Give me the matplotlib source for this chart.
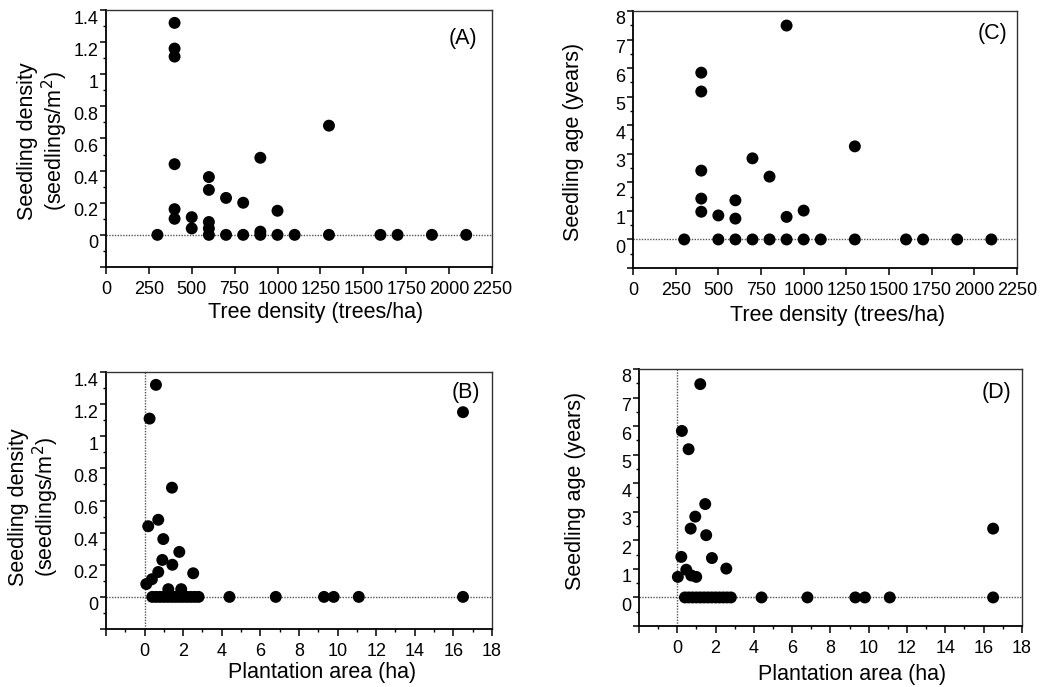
import numpy as np
import matplotlib
matplotlib.use('Agg')
import matplotlib.pyplot as plt
import matplotlib.transforms as mtransforms

plt.rcParams['font.family'] = ['Liberation Sans', 'DejaVu Sans']

# Panel A / C: tree density (trees/ha)
trees_A = [300, 400, 400, 400, 400, 400, 400, 500, 500, 600, 600, 600, 600, 600,
           700, 700, 800, 800, 900, 900, 900, 1000, 1000, 1100, 1300, 1300,
           1600, 1700, 1900, 2100]
density_A = [0, 1.32, 1.16, 1.11, 0.44, 0.16, 0.10, 0.11, 0.04, 0.36, 0.28, 0.08, 0.04, 0,
             0.23, 0, 0.20, 0, 0.48, 0.02, 0, 0.15, 0, 0, 0.68, 0,
             0, 0, 0, 0]

trees_C = [300, 400, 400, 400, 400, 400, 500, 500, 600, 600, 600, 700, 700, 800, 800,
           900, 900, 900, 1000, 1000, 1100, 1300, 1300, 1600, 1700, 1900, 2100]
age_C = [0, 5.84, 5.18, 2.41, 1.43, 0.97, 0.84, 0, 1.37, 0.73, 0, 2.84, 0, 2.2, 0,
         7.49, 0.79, 0, 1.01, 0, 0, 3.26, 0, 0, 0, 0, 0]

# Panel B / D: plantation area (ha)
area_B = [0.59, 0.26, 16.5, 1.42, 0.71, 0.19, 0.97, 1.8, 0.92, 1.44, 2.52, 0.71,
          0.38, 0.09, 1.23, 1.9,
          0.4, 0.6, 0.8, 1.0, 1.2, 1.4, 1.6, 1.8, 2.0, 2.2, 2.4, 2.6, 2.8,
          4.4, 6.8, 9.3, 9.8, 11.1, 16.5]
density_B = [1.32, 1.11, 1.15, 0.68, 0.48, 0.44, 0.36, 0.28, 0.23, 0.20, 0.147, 0.155,
             0.11, 0.08, 0.048, 0.048,
             0, 0, 0, 0, 0, 0, 0, 0, 0, 0, 0, 0, 0,
             0, 0, 0, 0, 0, 0]

area_D = [1.2, 0.24, 0.59, 1.46, 0.94, 0.70, 1.51, 0.21, 1.81, 2.56, 0.47, 0.03,
          0.73, 0.99, 16.5,
          0.4, 0.6, 0.8, 1.0, 1.2, 1.4, 1.6, 1.8, 2.0, 2.2, 2.4, 2.6, 2.8,
          4.4, 6.8, 9.3, 9.8, 11.1, 16.5]
age_D = [7.47, 5.83, 5.19, 3.27, 2.83, 2.41, 2.18, 1.42, 1.38, 1.01, 0.97, 0.72,
         0.77, 0.72, 2.41,
         0, 0, 0, 0, 0, 0, 0, 0, 0, 0, 0, 0, 0,
         0, 0, 0, 0, 0, 0]

dens_ticks = [0, 0.2, 0.4, 0.6, 0.8, 1, 1.2, 1.4]
dens_labels = ['0', '0.2', '0.4', '0.6', '0.8', '1', '1.2', '1.4']
age_ticks = list(range(0, 9))
tree_ticks = list(range(0, 2251, 250))
area_ticks = list(range(0, 19, 2))

fig = plt.figure(figsize=(10.46, 6.87), dpi=100)
axA = fig.add_axes([0.1013, 0.6114, 0.369, 0.374])
axC = fig.add_axes([0.6052, 0.6099, 0.367, 0.3741])
axB = fig.add_axes([0.1013, 0.0844, 0.369, 0.3741])
axD = fig.add_axes([0.6109, 0.0888, 0.366, 0.3741])

tick_fs = 13
label_fs = 15.5
panel_fs = 15.5
down = mtransforms.ScaledTranslation(0, -0.07, fig.dpi_scale_trans)


def style_axes(ax, xlim, xticks, xlabels, ylim, yticks, ylabels, yminor, xminor=None):
    ax.set_xlim(*xlim)
    ax.set_ylim(*ylim)
    ax.set_xticks(xticks)
    ax.set_xticklabels(xlabels, fontsize=tick_fs)
    if xminor is not None:
        ax.set_xticks(xminor, minor=True)
    ax.set_yticks(yticks)
    ax.set_yticklabels(ylabels, fontsize=tick_fs)
    ax.set_yticks(yminor, minor=True)
    ax.tick_params(which='major', direction='out', length=4, width=1.1, pad=1.5, color='black')
    ax.tick_params(axis='x', which='major', length=5, pad=5)
    ax.tick_params(which='minor', direction='out', length=2.2, width=1.0)
    for s in ['left', 'bottom']:
        ax.spines[s].set_linewidth(1.3)
    for s in ['top', 'right']:
        ax.spines[s].set_linewidth(1.0)
        ax.spines[s].set_color('#333333')
    # tick labels sit a little below their ticks, as in the original figure
    for lab in ax.get_yticklabels():
        lab.set_transform(lab.get_transform() + down)
    ax.axhline(0, color='#555555', lw=1.0, ls=(0, (1, 1)), zorder=1)


def dots(ax, x, y):
    ax.scatter(x, y, s=74, color='black', edgecolors='none', zorder=3, clip_on=False)


# (A)
dots(axA, trees_A, density_A)
style_axes(axA, (0, 2250), tree_ticks, [str(t) for t in tree_ticks],
           (-0.2, 1.4), [-0.2] + dens_ticks, [''] + dens_labels,
           np.arange(-0.1, 1.4, 0.2))
axA.text(0.925, 0.89, '(A)', transform=axA.transAxes, ha='center', va='center', fontsize=panel_fs)
axA.text(-0.162, 0.49, 'Seedling density\n(seedlings/m$^2$)', transform=axA.transAxes,
         rotation=90, ha='center', va='center', fontsize=label_fs, linespacing=1.05)
axA.text(0.544, -0.179, 'Tree density (trees/ha)', transform=axA.transAxes,
         ha='center', va='center', fontsize=label_fs)

# (C)
dots(axC, trees_C, age_C)
style_axes(axC, (0, 2250), tree_ticks, [str(t) for t in tree_ticks],
           (-1, 8), [-1] + age_ticks, [''] + [str(t) for t in age_ticks],
           np.arange(-0.5, 8, 1.0))
axC.text(0.9375, 0.914, '(C)', transform=axC.transAxes, ha='center', va='center', fontsize=panel_fs)
axC.text(-0.155, 0.49, 'Seedling age (years)', transform=axC.transAxes,
         rotation=90, ha='center', va='center', fontsize=label_fs)
axC.text(0.534, -0.183, 'Tree density (trees/ha)', transform=axC.transAxes,
         ha='center', va='center', fontsize=label_fs)

# (B)
dots(axB, area_B, density_B)
style_axes(axB, (-2, 18), [-2] + area_ticks, [''] + [str(t) for t in area_ticks],
           (-0.2, 1.4), [-0.2] + dens_ticks, [''] + dens_labels,
           np.arange(-0.1, 1.4, 0.2), xminor=np.arange(-1, 18, 2))
axB.axvline(0, color='#555555', lw=1.0, ls=(0, (1, 1)), zorder=1)
axB.text(0.933, 0.92, '(B)', transform=axB.transAxes, ha='center', va='center', fontsize=panel_fs)
axB.text(-0.185, 0.475, 'Seedling density\n(seedlings/m$^2$)', transform=axB.transAxes,
         rotation=90, ha='center', va='center', fontsize=label_fs, linespacing=1.05)
axB.text(0.561, -0.168, 'Plantation area (ha)', transform=axB.transAxes,
         ha='center', va='center', fontsize=label_fs)

# (D)
dots(axD, area_D, age_D)
style_axes(axD, (-2, 18), [-2] + area_ticks, [''] + [str(t) for t in area_ticks],
           (-1, 8), [-1] + age_ticks, [''] + [str(t) for t in age_ticks],
           np.arange(-0.5, 8, 1.0), xminor=np.arange(-1, 18, 2))
axD.axvline(0, color='#555555', lw=1.0, ls=(0, (1, 1)), zorder=1)
axD.text(0.935, 0.907, '(D)', transform=axD.transAxes, ha='center', va='center', fontsize=panel_fs)
axD.text(-0.167, 0.527, 'Seedling age (years)', transform=axD.transAxes,
         rotation=90, ha='center', va='center', fontsize=label_fs)
axD.text(0.557, -0.19, 'Plantation area (ha)', transform=axD.transAxes,
         ha='center', va='center', fontsize=label_fs)

fig.savefig('out.png', dpi=100)
